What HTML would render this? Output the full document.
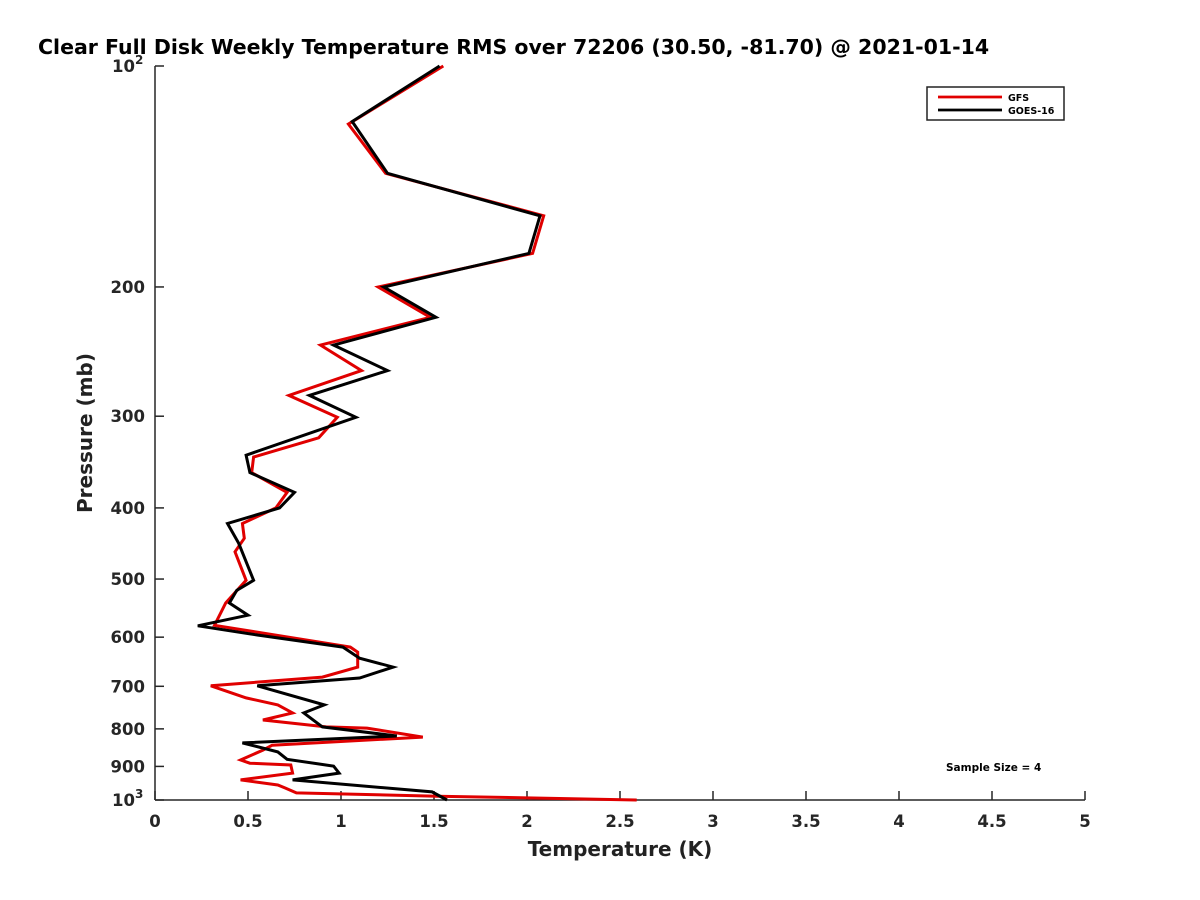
<!DOCTYPE html>
<html><head><meta charset="utf-8"><style>
html,body{margin:0;padding:0;background:#fff;overflow:hidden;}
svg{display:block;font-family:"DejaVu Sans","Liberation Sans",sans-serif;font-weight:bold;}
</style></head><body>
<svg id="chart" width="1200" height="900" viewBox="0 0 1200 900" xmlns="http://www.w3.org/2000/svg">
<rect width="1200" height="900" fill="#fff"/>
<text x="38" y="54" font-size="20.5" fill="#000">Clear Full Disk Weekly Temperature RMS over 72206 (30.50, -81.70) @ 2021-01-14</text>
<g id="axes"></g>
<g id="series"></g>
<text x="620" y="856" font-size="20" text-anchor="middle" fill="#222">Temperature (K)</text>
<text transform="translate(92,433) rotate(-90)" font-size="20" text-anchor="middle" fill="#222">Pressure (mb)</text>
<g>
<rect x="927" y="87" width="137" height="33" fill="#fff" stroke="#222" stroke-width="1.5"/>
<line x1="938" y1="97" x2="1002" y2="97" stroke="#e00000" stroke-width="2.8"/>
<text x="1008" y="101" font-size="9.5" fill="#000">GFS</text>
<line x1="938" y1="110" x2="1002" y2="110" stroke="#000" stroke-width="2.8"/>
<text x="1008" y="114" font-size="9.5" fill="#000">GOES-16</text>
</g>
<text x="946" y="771" font-size="10.5" fill="#000">Sample Size = 4</text>
</svg>
<script>
const xTicks = [0,0.5,1,1.5,2,2.5,3,3.5,4,4.5,5];
const xTickLabels = ["0","0.5","1","1.5","2","2.5","3","3.5","4","4.5","5"];
const yTicks = [100,200,300,400,500,600,700,800,900,1000];
const yTickLabels = ["10^2","200","300","400","500","600","700","800","900","10^3"];
const gfsPressure = [100,120,140,160,180,200,220,240,260,281,301,321,341,358,381,400,420,440,459,502,539,578,619,629,659,680,699,726,742,761,778,795,798,821,842,855,882,891,896,919,939,954,963,978,988,1000];
const gfsTemp = [1.55,1.04,1.24,2.09,2.03,1.20,1.48,0.89,1.11,0.72,0.98,0.88,0.53,0.52,0.71,0.65,0.47,0.48,0.43,0.49,0.38,0.32,1.05,1.09,1.09,0.90,0.30,0.49,0.66,0.74,0.58,0.92,1.14,1.44,0.63,0.58,0.46,0.51,0.73,0.74,0.46,0.66,0.70,0.76,1.52,2.59];
const goesPressure = [100,119,140,160,180,200,220,240,260,281,301,339,358,381,400,420,447,502,518,539,560,579,596,619,641,659,682,699,742,761,795,818,836,860,880,899,919,939,975,1000];
const goesTemp = [1.53,1.06,1.25,2.07,2.01,1.23,1.51,0.96,1.25,0.83,1.08,0.49,0.51,0.75,0.67,0.39,0.45,0.53,0.44,0.40,0.50,0.23,0.55,1.01,1.10,1.28,1.10,0.55,0.91,0.80,0.90,1.30,0.47,0.66,0.71,0.96,0.99,0.74,1.49,1.57];

const X0=155,X1=1085,Y0=66,Y1=800,XMIN=0,XMAX=5,PMIN=100,PMAX=1000;
const NS="http://www.w3.org/2000/svg";
function xScale(v){return X0+(v-XMIN)/(XMAX-XMIN)*(X1-X0);}
function yScale(p){return Y0+(Math.log10(p)-Math.log10(PMIN))/(Math.log10(PMAX)-Math.log10(PMIN))*(Y1-Y0);}
function mk(tag,attrs,parent){const e=document.createElementNS(NS,tag);for(const k in attrs)e.setAttribute(k,attrs[k]);parent.appendChild(e);return e;}
const axes=document.getElementById('axes');
const series=document.getElementById('series');
const xAxis=mk('line',{x1:X0,y1:Y1,x2:X1,y2:Y1,stroke:'#262626','stroke-width':1.5},axes);


const yAxis=mk('line',{x1:X0,y1:Y0,x2:X0,y2:Y1,stroke:'#262626','stroke-width':1.5},axes);


xTicks.forEach((v,i)=>{
  const x=xScale(v);
  const t=mk('line',{x1:x,y1:Y1,x2:x,y2:Y1-9,stroke:'#262626','stroke-width':1.5},axes);
  
  
  const l=mk('text',{x:x,y:Y1+27,'font-size':16.5,'text-anchor':'middle',fill:'#262626'},axes);
  
  
  l.textContent=xTickLabels[i];
});
yTicks.forEach((p,i)=>{
  const y=yScale(p);
  const t=mk('line',{x1:X0,y1:y,x2:X0+9,y2:y,stroke:'#262626','stroke-width':1.5},axes);
  
  
  const lab=yTickLabels[i];
  const l=mk('text',{x:X0-10,y:y+6,'font-size':16.5,'text-anchor':'end',fill:'#262626'},axes);
  
  
  if(lab.indexOf('^')>=0){
    const parts=lab.split('^');
    l.setAttribute('x',X0-20);
    l.textContent=parts[0];
    const s=mk('text',{x:X0-20,y:y-2,'font-size':12,fill:'#262626'},axes);
    
    
    s.textContent=parts[1];
  } else l.textContent=lab;
});
function drawLine(P,T,color,name){
  const d=P.map((p,i)=>(i?'L':'M')+xScale(T[i]).toFixed(1)+','+yScale(p).toFixed(1)).join(' ');
  const path=mk('path',{d:d,fill:'none',stroke:color,'stroke-width':3,'stroke-linejoin':'miter'},series);
  
  
}
drawLine(gfsPressure,gfsTemp,'#e00000','gfs-line');
drawLine(goesPressure,goesTemp,'#000000','goes16-line');
</script>
</body></html>
